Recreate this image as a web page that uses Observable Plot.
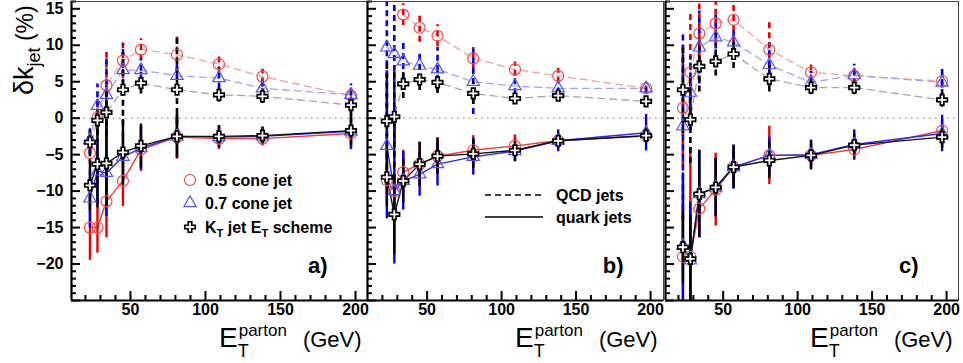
<!DOCTYPE html>
<html><head><meta charset="utf-8">
<script src="https://cdn.jsdelivr.net/npm/d3@7"></script>
<script src="https://cdn.jsdelivr.net/npm/@observablehq/plot@0.6"></script>
<style>
body{margin:0;background:#fff;}
#chart{position:relative;width:963px;height:363px;font-family:"Liberation Sans",Arial,sans-serif;overflow:hidden;}
#chart svg{position:absolute;top:0;overflow:visible;background:transparent;}
</style></head><body><div id="chart"></div>
<script>
// ---------------- data ----------------
const energies = [23, 28, 34, 45, 57, 81, 109, 138, 197];   // E_T parton (GeV)
const panelNames = ["a)", "b)", "c)"];
const yTickLabels = [-20, -15, -10, -5, 0, 5, 10, 15];
const xTickLabels = [50, 100, 150, 200];

// QCD jets (dashed), one row per panel a, b, c
const qcdCone05 = [
  [-4.8, 0.1, 4.5, 7.9, 9.4, 8.7, 7.4, 5.7, 3.1],
  [null, null, 14.2, 12.4, 11.3, 8.2, 6.7, 5.8, 4.1],
  [1.4, 6.3, 11.6, 13.0, 13.5, 9.4, 6.3, 5.8, 5.1]];
const qcdCone05Err = [
  [1.5, 2.5, 4.5, 2.5, 1.5, 2.5, 1.2, 1.0, 1.0],
  [0, 0, 1.5, 2.0, 1.5, 1.5, 1.0, 1.0, 0.5],
  [8, 8, 5, 3, 3, 4, 1.2, 1.2, 1.0]];
const qcdCone07 = [
  [-3.0, 1.7, 3.2, 6.6, 6.6, 5.8, 5.5, 4.1, 3.2],
  [9.7, 8.8, 7.8, 7.2, 6.7, 5.0, 4.4, 4.1, 4.1],
  [-1.1, 3.5, 9.7, 11.1, 10.4, 7.3, 4.9, 5.9, 4.9]];
const qcdCone07Err = [
  [2, 3, 5.5, 3.5, 1.5, 2, 1.5, 1.2, 1.5],
  [15, 12, 2.5, 2, 3, 4.5, 1.2, 0.8, 0.8],
  [13, 5, 5, 3, 2, 3, 1.5, 1.5, 1.8]];
const qcdKt = [
  [-3.3, -0.3, 0.8, 3.9, 4.8, 3.9, 3.2, 3.0, 1.8],
  [-0.4, 0.2, 4.7, 5.3, 4.9, 3.4, 2.7, 3.1, 2.3],
  [3.9, -0.2, 7.1, 7.8, 8.8, 5.4, 4.2, 4.2, 2.5]];
const qcdKtErr = [
  [2, 2, 3.5, 5, 1.5, 7.5, 1, 1, 1.5],
  [8, 7, 2, 1.5, 1.5, 1.5, 0.5, 0.7, 0.5],
  [6, 6, 3.5, 2, 2, 1.8, 1, 1, 1]];

// quark jets (solid)
const quarkCone05 = [
  [-15.0, -15.0, -11.4, -8.6, -4.3, -2.6, -2.8, -2.8, -2.1],
  [-8.5, -10.0, -7.4, -6.3, -5.2, -4.4, -3.8, -3.1, -2.4],
  [-19.0, -19.0, -12.4, -9.8, -6.7, -5.1, -5.1, -4.3, -1.7]];
const quarkCone05Err = [
  [4.5, 3.5, 5, 3.5, 3, 3, 1.5, 1, 2],
  [2, 2, 3, 3, 2.5, 2, 1.5, 1, 1],
  [10, 15, 3.5, 5, 2.5, 4, 1.5, 1.5, 1.5]];
const quarkCone07 = [
  [-11.0, -7.3, -7.5, -5.3, -4.1, -2.5, -2.6, -2.5, -1.8],
  [-3.8, -10.0, -8.6, -7.7, -6.3, -5.3, -4.5, -3.1, -2.0],
  [-17.5, -19.5, -10.4, -9.5, -6.7, -5.1, -5.0, -3.6, -2.1]];
const quarkCone07Err = [
  [4, 4.5, 6, 3.5, 3, 3, 1.5, 1.2, 2.5],
  [10, 10, 4, 3, 3, 2.5, 1.5, 1.5, 2.5],
  [10, 8, 6, 4, 3, 2.5, 2, 2, 2.5]];
const quarkKt = [
  [-9.2, -6.3, -6.2, -4.7, -3.8, -2.5, -2.5, -2.4, -1.7],
  [-8.1, -13.2, -8.6, -6.3, -5.2, -4.9, -4.4, -3.1, -2.4],
  [-17.7, -19.3, -10.4, -9.5, -6.7, -5.8, -5.1, -3.7, -2.6]];
const quarkKtErr = [
  [3.5, 6, 6, 4.5, 3, 3, 1.5, 1.2, 2],
  [4, 5.5, 3, 3, 2.5, 2, 1.5, 1, 1],
  [5, 6, 6, 4, 3, 2.5, 2, 1.5, 1.5]];

// ---------------- build table ----------------
const algos = [
  {key: "c05", qcd: qcdCone05, qcdErr: qcdCone05Err, quark: quarkCone05, quarkErr: quarkCone05Err},
  {key: "c07", qcd: qcdCone07, qcdErr: qcdCone07Err, quark: quarkCone07, quarkErr: quarkCone07Err},
  {key: "kt",  qcd: qcdKt,     qcdErr: qcdKtErr,     quark: quarkKt,     quarkErr: quarkKtErr}];
const rows = [];
for (let p = 0; p < 3; p++) for (const a of algos) for (const kind of ["qcd", "quark"]) {
  const vals = a[kind][p], errs = a[kind + "Err"][p];
  energies.forEach((e, i) => { if (vals[i] != null) rows.push({p, algo: a.key, kind, x: e, y: vals[i], err: errs[i]}); });
}

const st = {
  c05: {symbol: "circle",   r: 5.5, mark: "#f24c4c", fill: "none", sw: 1.2, err: "#e80000", pale: "#f3a0a0", solid: "#e83a3a"},
  c07: {symbol: "triangle", r: 4.6, mark: "#5656ee", fill: "none", sw: 1.2, err: "#0000e6", pale: "#a4a4ee", solid: "#2a2af2"},
  kt:  {symbol: "cross",    r: 4.4, mark: "#000",    fill: "#fff", sw: 1.7, err: "#000",    pale: "#a6a6a6", solid: "#111"}
};

const layout = [
  {left: 0,   width: 369, ml: 71, mr: 2, xd: [10.7, 208]},
  {left: 365, width: 300, ml: 2,  mr: 2, xd: [10, 208.7]},
  {left: 663, width: 300, ml: 2,  mr: 5, xd: [11.3, 208]}];
const H = 363, MT = 1, MB = 63;
const yDomain = [-25, 16];
const font = "Liberation Sans, Arial, sans-serif";
const chart = document.getElementById("chart");

layout.forEach((L, p) => {
  const data = rows.filter(d => d.p === p);
  const plotW = L.width - L.ml - L.mr, plotH = H - MT - MB;
  const marks = [
    Plot.ruleY([0], {stroke: "#a8a890", strokeWidth: 1.6, strokeDasharray: "1.6,4.4"})
  ];
  for (const a of ["c05", "c07", "kt"]) {
    const s = st[a];
    marks.push(Plot.line(data.filter(d => d.algo === a && d.kind === "qcd"),
      {x: "x", y: "y", stroke: s.pale, strokeWidth: 1.3, strokeDasharray: "7,5", clip: true}));
    marks.push(Plot.line(data.filter(d => d.algo === a && d.kind === "quark"),
      {x: "x", y: "y", stroke: s.solid, strokeWidth: 1.4, clip: true}));
  }
  for (const a of ["c05", "c07", "kt"]) {
    const s = st[a];
    marks.push(Plot.ruleX(data.filter(d => d.algo === a && d.kind === "qcd" && d.err > 0),
      {x: "x", y1: d => d.y - d.err, y2: d => d.y + d.err, stroke: s.err, strokeWidth: 2.6, strokeDasharray: "6,4", clip: true}));
    marks.push(Plot.ruleX(data.filter(d => d.algo === a && d.kind === "quark" && d.err > 0),
      {x: "x", y1: d => d.y - d.err, y2: d => d.y + d.err, stroke: s.err, strokeWidth: 2.4, clip: true}));
  }
  for (const a of ["c05", "c07", "kt"]) {
    const s = st[a];
    marks.push(Plot.dot(data.filter(d => d.algo === a),
      {x: "x", y: "y", symbol: s.symbol, r: s.r, stroke: s.mark, fill: s.fill, strokeWidth: s.sw, clip: true}));
  }
  // ROOT-style inward ticks
  const yMajor = d3.range(-25, 16, 5), yMinor = d3.range(-25, 17, 1).filter(v => v % 5 !== 0);
  const xMajor = [50, 100, 150, 200], xMinor = d3.range(20, 210, 10).filter(v => v % 50 !== 0);
  marks.push(Plot.ruleY(yMajor, {stroke: "#000", strokeWidth: 2, insetRight: plotW - 9}));
  marks.push(Plot.ruleY(yMinor, {stroke: "#000", strokeWidth: 2, insetRight: plotW - 5}));
  marks.push(Plot.ruleX(xMajor, {stroke: "#000", strokeWidth: 2, insetTop: plotH - 9}));
  marks.push(Plot.ruleX(xMinor, {stroke: "#000", strokeWidth: 2, insetTop: plotH - 5}));
  marks.push(Plot.frame({stroke: "#444", strokeWidth: 1}));
  marks.push(Plot.ruleX([L.xd[0]], {stroke: "#000", strokeWidth: 2.2}));
  marks.push(Plot.ruleY([yDomain[0]], {stroke: "#000", strokeWidth: 2.2}));
  marks.push(Plot.axisX(xTickLabels, {tickSize: 0, tickPadding: 3, fontSize: 16, fontWeight: "bold", label: null}));
  if (p === 0) marks.push(Plot.axisY(yTickLabels, {tickSize: 0, tickPadding: 8, fontSize: 16, fontWeight: "bold", label: null}));
  marks.push(Plot.text([panelNames[p]], {frameAnchor: "bottom-right", dx: -40, dy: -28, textAnchor: "end", lineAnchor: "bottom", fontSize: 22, fontWeight: "bold", fill: "#000"}));

  const svg = Plot.plot({
    width: L.width, height: H,
    marginLeft: L.ml, marginRight: L.mr, marginTop: MT, marginBottom: MB,
    style: {fontFamily: font, background: "transparent", overflow: "visible"},
    x: {domain: L.xd, axis: null},
    y: {domain: yDomain, axis: null},
    marks
  });
  svg.style.left = L.left + "px";
  chart.appendChild(svg);
  const g = d3.select(svg).append("g").attr("text-anchor", "start").attr("font-family", font);

  // x-axis title: E_T^parton (GeV)
  const xr = L.width - L.mr;
  const t = g.append("text").attr("x", xr - 148).attr("y", 347).attr("fill", "#000");
  t.append("tspan").attr("font-size", 28).text("E");
  t.append("tspan").attr("font-size", 18).attr("dy", 10).text("T");
  t.append("tspan").attr("font-size", 17).attr("dx", -10).attr("dy", -21).text("parton");
  t.append("tspan").attr("font-size", 22).attr("dx", 16).attr("dy", 11).text("(GeV)");

  if (p === 0) {
    // y-axis title
    const yt = g.append("text").attr("transform", "translate(33,95) rotate(-90)").attr("fill", "#000");
    yt.append("tspan").attr("font-size", 27).text("δk");
    yt.append("tspan").attr("font-size", 18).attr("dy", 7).text("jet");
    yt.append("tspan").attr("font-size", 23).attr("dy", -7).text(" (%)");
    // legend
    const entries = [["c05", "0.5 cone jet", 180], ["c07", "0.7 cone jet", 203], ["kt", null, 227]];
    const symTypes = {circle: d3.symbolCircle, triangle: d3.symbolTriangle, cross: d3.symbolCross};
    for (const [a, label, y] of entries) {
      const s = st[a];
      g.append("path").attr("transform", `translate(190,${y})`)
        .attr("d", d3.symbol(symTypes[s.symbol], Math.PI * s.r * s.r)())
        .attr("fill", s.fill).attr("stroke", s.mark).attr("stroke-width", s.sw);
      const lt = g.append("text").attr("x", 205).attr("y", y + 6).attr("font-size", 16).attr("font-weight", "bold").attr("fill", "#000");
      if (label) lt.text(label);
      else {
        lt.append("tspan").text("K");
        lt.append("tspan").attr("font-size", 11).attr("dy", 4).text("T");
        lt.append("tspan").attr("dy", -4).text(" jet E");
        lt.append("tspan").attr("font-size", 11).attr("dy", 4).text("T");
        lt.append("tspan").attr("dy", -4).text(" scheme");
      }
    }
  }
  if (p === 1) {
    const lg = [["QCD jets", 195, "6,4"], ["quark jets", 217, null]];
    for (const [label, y, dash] of lg) {
      const ln = g.append("line").attr("x1", 120).attr("x2", 178).attr("y1", y).attr("y2", y).attr("stroke", "#000").attr("stroke-width", 1.4);
      if (dash) ln.attr("stroke-dasharray", dash);
      g.append("text").attr("x", 191).attr("y", y + 6).attr("font-size", 16).attr("font-weight", "bold").attr("fill", "#000").text(label);
    }
  }
});
</script></body></html>
